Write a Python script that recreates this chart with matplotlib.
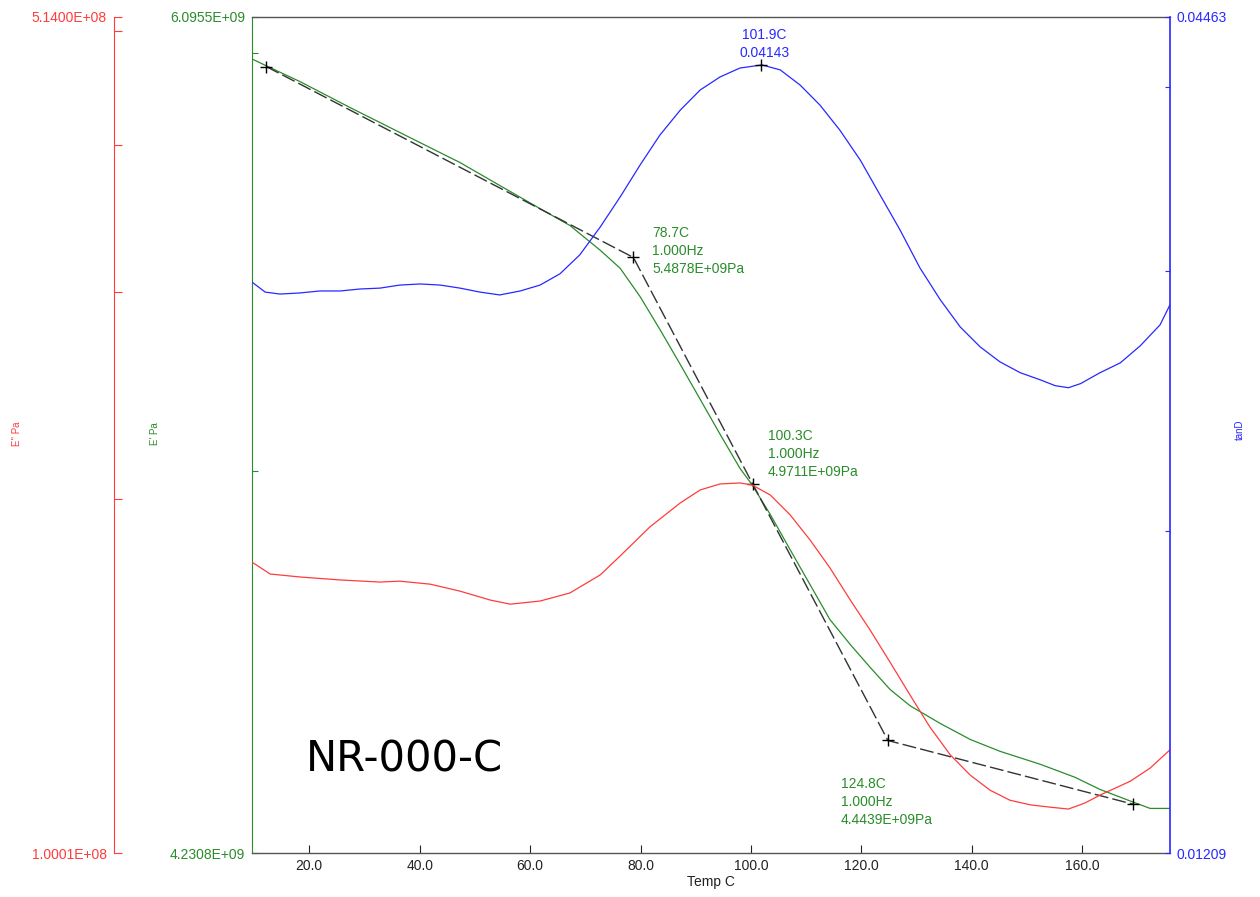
import matplotlib.pyplot as plt
from matplotlib.ticker import FixedLocator, FixedFormatter, NullLocator

plt.rcParams['font.family'] = 'Liberation Sans'

GREEN = '#2a8c2a'
RED = '#ff3c3c'
BLUE = '#2828ff'

# storage modulus E' (Pa)
temp_e1 = [9.6, 12.2, 18.3, 27.4, 38.2, 47.3, 54.5, 61.8, 67.2, 72.7, 76.3, 79.9,
           83.5, 87.2, 90.8, 94.4, 98.0, 100.2, 103.5, 107.1, 110.7, 114.3, 118.0,
           121.6, 125.2, 128.8, 134.3, 139.7, 145.1, 152.4, 158.7, 163.2, 168.7,
           172.3, 175.9]
e_storage = [5.985e9, 5.967e9, 5.926e9, 5.859e9, 5.783e9, 5.720e9, 5.663e9, 5.606e9,
             5.565e9, 5.505e9, 5.462e9, 5.395e9, 5.318e9, 5.237e9, 5.158e9, 5.080e9,
             5.005e9, 4.969e9, 4.905e9, 4.830e9, 4.757e9, 4.685e9, 4.634e9, 4.588e9,
             4.544e9, 4.512e9, 4.477e9, 4.446e9, 4.423e9, 4.398e9, 4.373e9, 4.350e9,
             4.328e9, 4.314e9, 4.314e9]

# loss modulus E'' (Pa)
temp_e2 = [9.6, 12.9, 18.3, 25.6, 32.8, 36.4, 41.9, 47.3, 52.8, 56.4, 61.8, 67.2,
           72.7, 76.3, 81.7, 87.2, 90.8, 94.4, 98.0, 100.2, 103.5, 107.1, 110.7,
           114.3, 118.0, 121.6, 125.2, 128.8, 132.4, 136.1, 139.7, 143.3, 146.9,
           150.6, 154.2, 157.5, 160.5, 163.2, 168.7, 172.3, 175.9]
e_loss = [1.768e8, 1.727e8, 1.717e8, 1.707e8, 1.700e8, 1.703e8, 1.693e8, 1.670e8,
          1.641e8, 1.628e8, 1.638e8, 1.664e8, 1.724e8, 1.789e8, 1.894e8, 1.985e8,
          2.036e8, 2.060e8, 2.064e8, 2.056e8, 2.016e8, 1.939e8, 1.846e8, 1.748e8,
          1.641e8, 1.547e8, 1.453e8, 1.363e8, 1.280e8, 1.212e8, 1.165e8, 1.131e8,
          1.109e8, 1.099e8, 1.094e8, 1.090e8, 1.103e8, 1.120e8, 1.151e8, 1.181e8,
          1.224e8]

# loss tangent
temp_tan = [9.6, 12.0, 14.7, 18.3, 21.9, 25.6, 29.2, 32.8, 36.4, 40.1, 43.7, 47.3,
            50.9, 54.5, 58.2, 61.8, 65.4, 69.0, 72.7, 76.3, 79.9, 83.5, 87.2, 90.8,
            94.4, 98.0, 102.0, 105.3, 108.9, 112.5, 116.1, 119.8, 123.4, 127.0,
            130.6, 134.3, 137.9, 141.5, 145.1, 148.8, 152.4, 155.1, 157.5, 159.7,
            163.2, 166.9, 170.5, 174.1, 175.9]
tan_d = [0.02950, 0.02904, 0.02895, 0.02900, 0.02909, 0.02909, 0.02918, 0.02922,
         0.02936, 0.02941, 0.02936, 0.02922, 0.02904, 0.02891, 0.02909, 0.02936,
         0.02988, 0.03078, 0.03215, 0.03369, 0.03541, 0.03711, 0.03859, 0.03982,
         0.04064, 0.04121, 0.04141, 0.04109, 0.04013, 0.03889, 0.03740, 0.03569,
         0.03379, 0.03200, 0.03016, 0.02869, 0.02750, 0.02666, 0.02604, 0.02560,
         0.02532, 0.02509, 0.02501, 0.02517, 0.02560, 0.02600, 0.02670, 0.02759,
         0.02847]

# onset construction on E'
onset_temp = [12.2, 78.7, 100.3, 124.8, 169.2]
onset_mod = [5.965e9, 5.4878e9, 4.9711e9, 4.4439e9, 4.322e9]
onset_labels = {1: (13.7, 22.7), 2: (10.8, 39.2), 3: (-33.8, -26.3)}

peak_temp = 101.9
peak_tan = 0.04143

x_ticks = [20, 40, 60, 80, 100, 120, 140, 160]
e1_lim = (4.2308e9, 6.0955e9)
e2_lim = (1.0001e8, 5.1400e8)
tan_lim = (0.01209, 0.04463)

fig = plt.figure(figsize=(12.6, 8.97), dpi=100)
ax = fig.add_axes([0.2, 0.04905, 0.72857, 0.932])
ax_r = ax.twinx()
ax_b = ax.twinx()

# E' on the main axes
ax.plot(temp_e1, e_storage, color=GREEN, lw=0.9)
ax.plot(onset_temp, onset_mod, color='#333333', lw=1.0, dashes=(10, 3),
        marker='+', ms=8, mew=1.0, mec='black', zorder=5)
ax.set_yscale('log')
ax.set_ylim(*e1_lim)
ax.set_xlim(9.62, 175.9)
ax.yaxis.set_major_locator(FixedLocator([e1_lim[0], 5e9, 6e9, e1_lim[1]]))
ax.yaxis.set_major_formatter(FixedFormatter(['4.2308E+09', '', '', '6.0955E+09']))
ax.yaxis.set_minor_locator(NullLocator())
ax.tick_params(axis='y', direction='in', length=4.3, width=0.8, color=GREEN,
               labelcolor=GREEN, labelsize=10, pad=5)
ax.set_xticks(x_ticks)
ax.set_xticklabels([f'{t:.1f}' for t in x_ticks])
ax.tick_params(axis='x', direction='in', length=5.8, width=0.8, color='#222222',
               labelcolor='#222222', labelsize=10, pad=4)
ax.set_xlabel('Temp C', fontsize=10, color='#222222', labelpad=2)
ax.spines['left'].set_color(GREEN)
ax.spines['right'].set_visible(False)
for s in ('top', 'bottom'):
    ax.spines[s].set_color('#555555')
    ax.spines[s].set_linewidth(1.0)

for i, (dx, dy) in onset_labels.items():
    ax.annotate(f'{onset_temp[i]:.1f}C\n1.000Hz\n{onset_mod[i] / 1e9:.4f}E+09Pa',
                xy=(onset_temp[i], onset_mod[i]), xytext=(dx, dy),
                textcoords='offset points', ha='left', va='top',
                color=GREEN, fontsize=10, linespacing=1.35)

# E'' on an outer left axis (offset in points)
ax_r.plot(temp_e2, e_loss, color=RED, lw=0.9)
ax_r.set_yscale('log')
ax_r.set_ylim(*e2_lim)
ax_r.yaxis.set_ticks_position('left')
ax_r.spines['left'].set_position(('outward', 99.4))
ax_r.spines['left'].set_visible(True)
ax_r.spines['left'].set_color(RED)
for s in ('right', 'top', 'bottom'):
    ax_r.spines[s].set_visible(False)
ax_r.yaxis.set_major_locator(FixedLocator([e2_lim[0], 2e8, 3e8, 4e8, 5e8, e2_lim[1]]))
ax_r.yaxis.set_major_formatter(FixedFormatter(['1.0001E+08', '', '', '', '', '5.1400E+08']))
ax_r.yaxis.set_minor_locator(NullLocator())
ax_r.tick_params(axis='y', direction='in', length=5.8, width=0.8, color=RED,
                 labelcolor=RED, labelsize=10, pad=5)

# tan delta on the right
ax_b.plot(temp_tan, tan_d, color=BLUE, lw=0.9)
ax_b.plot([peak_temp], [peak_tan], marker='+', ms=8, mew=1.0, color='black')
ax_b.set_yscale('log')
ax_b.set_ylim(*tan_lim)
ax_b.yaxis.set_major_locator(FixedLocator([tan_lim[0], 0.02, 0.03, 0.04, tan_lim[1]]))
ax_b.yaxis.set_major_formatter(FixedFormatter(['0.01209', '', '', '', '0.04463']))
ax_b.yaxis.set_minor_locator(NullLocator())
ax_b.tick_params(axis='y', direction='in', length=3.6, width=0.8, color=BLUE,
                 labelcolor=BLUE, labelsize=10, pad=5)
ax_b.spines['right'].set_color(BLUE)
ax_b.spines['right'].set_linewidth(1.2)
for s in ('left', 'top', 'bottom'):
    ax_b.spines[s].set_visible(False)
ax_b.annotate(f'{peak_temp:.1f}C\n{peak_tan:.5f}', xy=(peak_temp, peak_tan),
              xytext=(2.2, 3.6), textcoords='offset points', ha='center',
              va='bottom', color=BLUE, fontsize=10, linespacing=1.35)

fig.text(17 / 1260, 1 - 434 / 897, "E'' Pa", rotation=90, color=RED,
         fontsize=7, ha='center', va='center')
fig.text(155 / 1260, 1 - 434 / 897, "E' Pa", rotation=90, color=GREEN,
         fontsize=7, ha='center', va='center')
fig.text(1240 / 1260, 1 - 430 / 897, 'tanD', rotation=90, color=BLUE,
         fontsize=7, ha='center', va='center')

fig.text(306 / 1260, 1 - 772 / 897, 'NR-000-C', family='DejaVu Sans',
         fontsize=30, color='black', ha='left', va='baseline')

fig.savefig('out.png', dpi=100)
